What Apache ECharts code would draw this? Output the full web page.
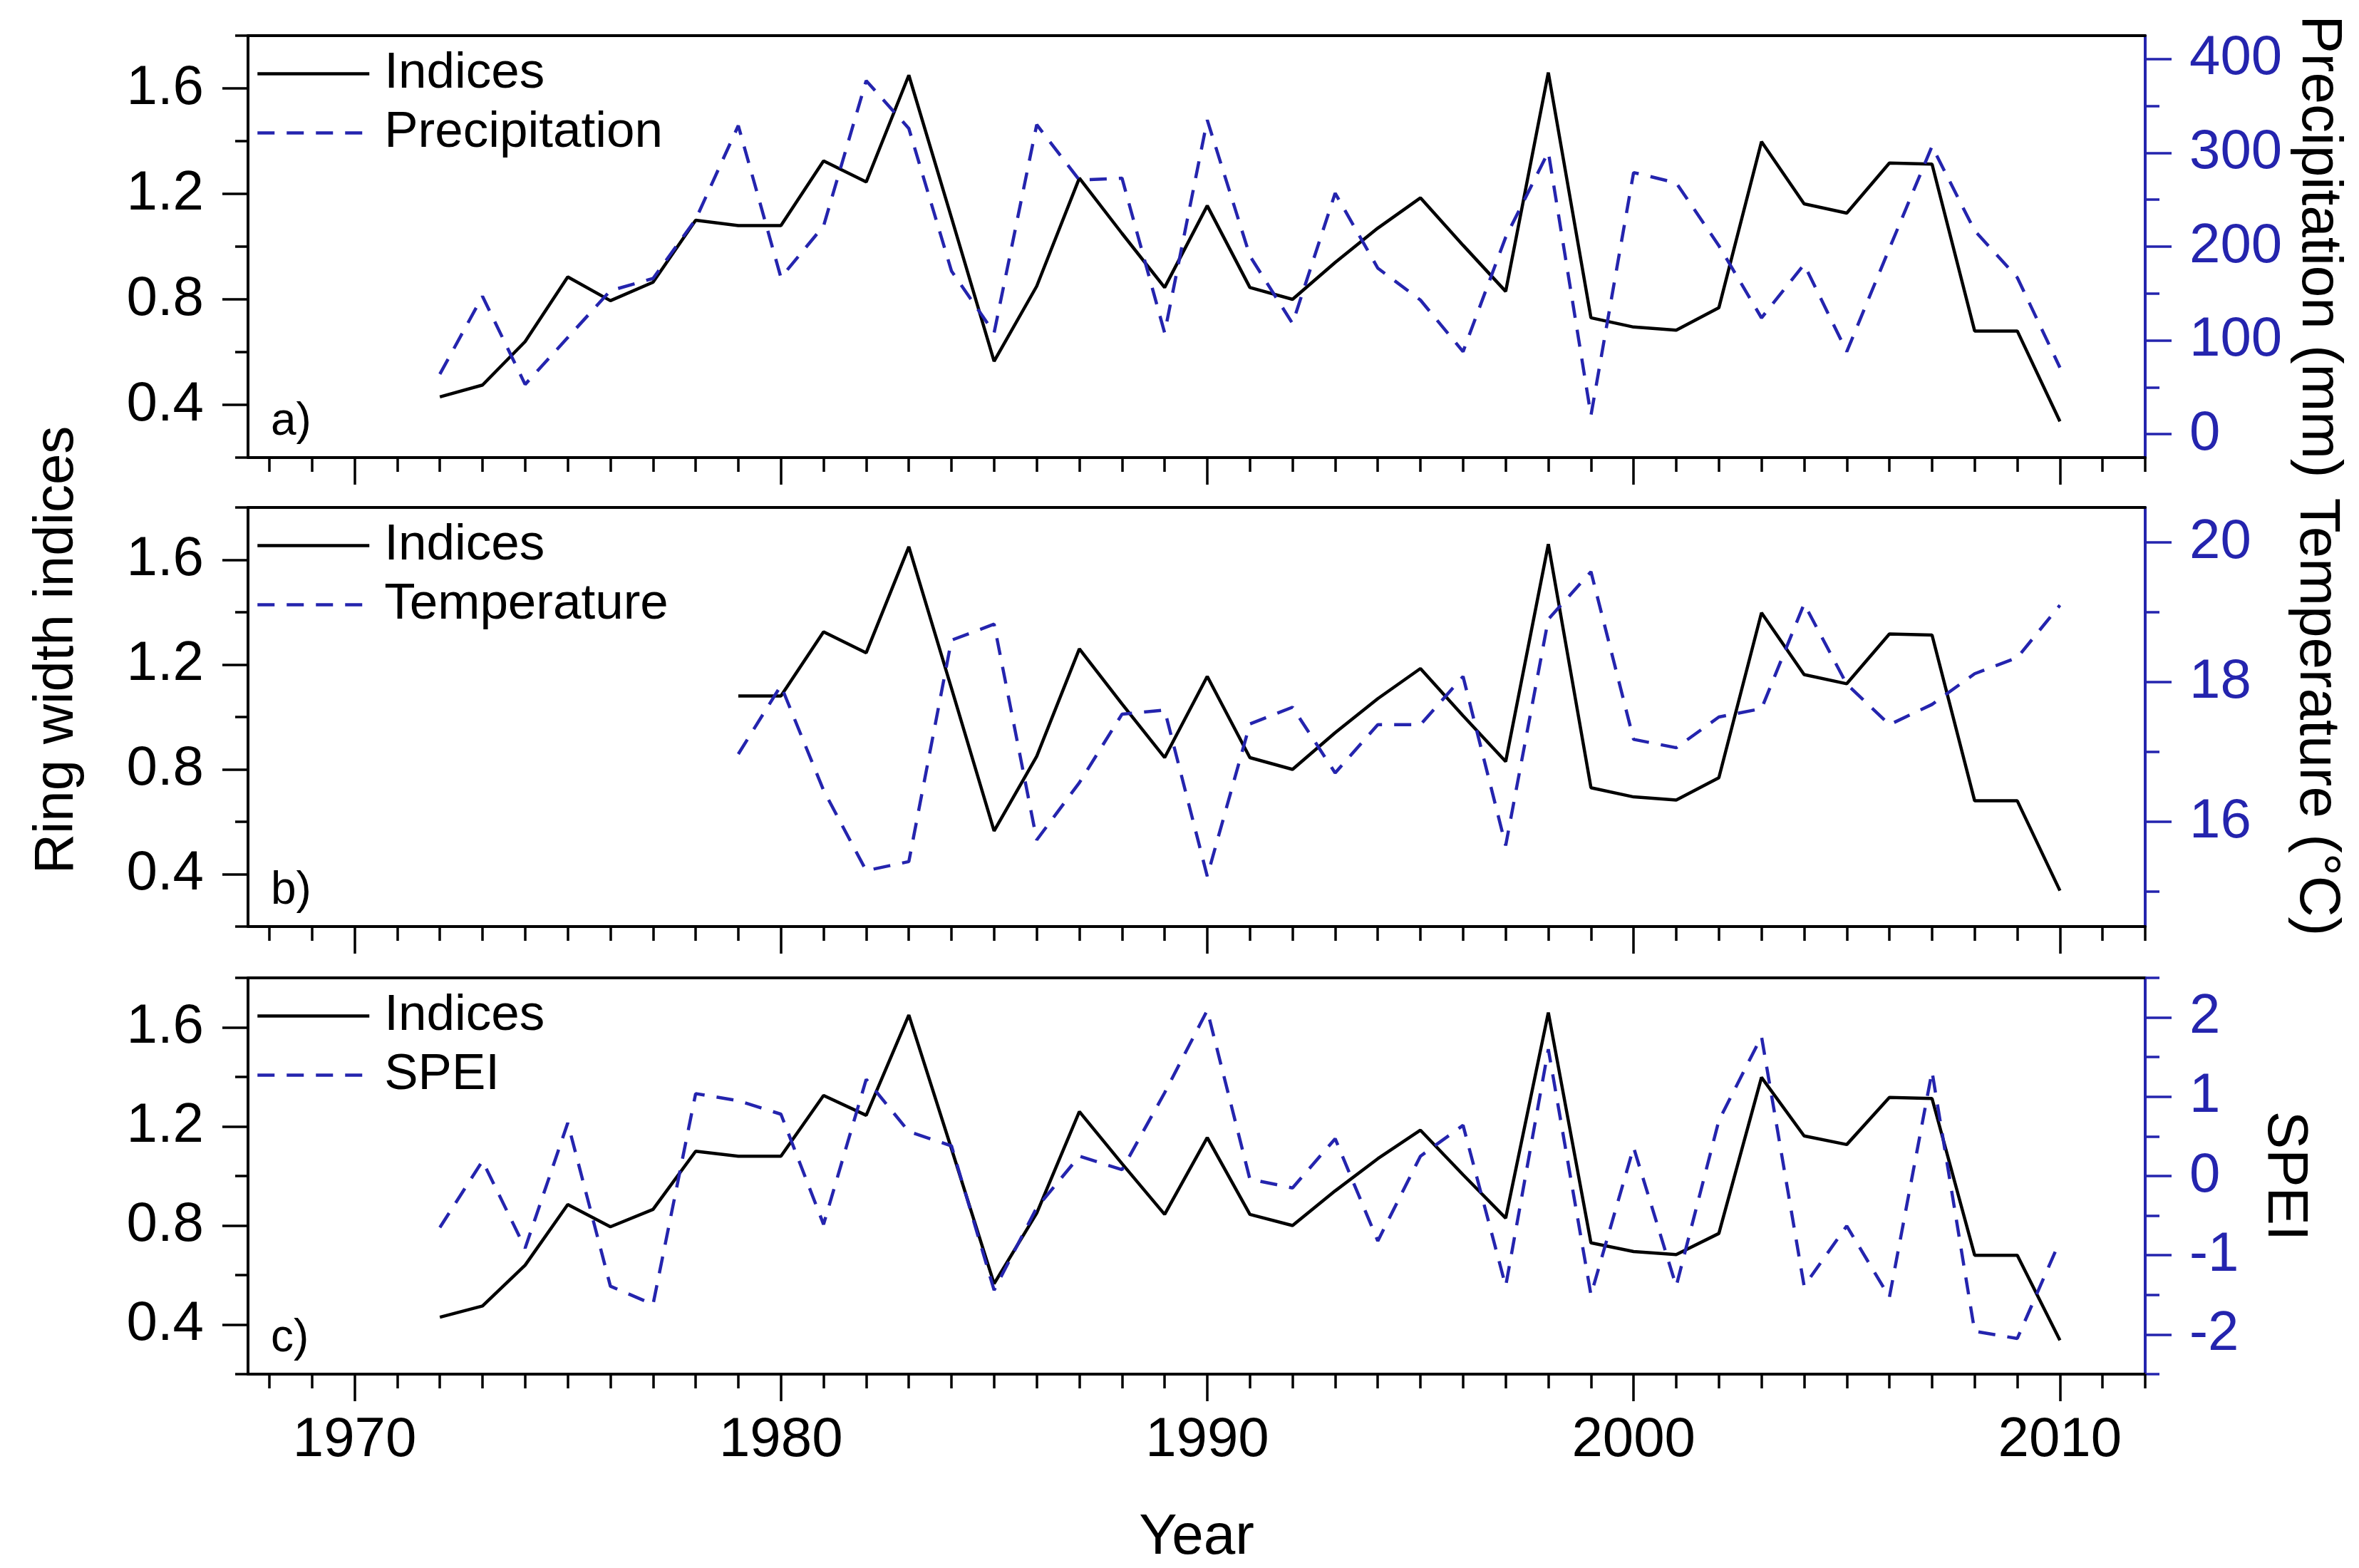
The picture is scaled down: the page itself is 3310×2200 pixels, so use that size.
<!DOCTYPE html>
<html>
<head>
<meta charset="utf-8">
<script src="https://cdn.jsdelivr.net/npm/echarts@6/dist/echarts.min.js"></script>
<style>
html, body { margin: 0; padding: 0; background: #fff; }
#chart { width: 3310px; height: 2200px; }
</style>
</head>
<body>
<div id="chart"></div>
<script>
// data, one value per year 1972-2010
var years = [1972, 1973, 1974, 1975, 1976, 1977, 1978, 1979, 1980, 1981,
             1982, 1983, 1984, 1985, 1986, 1987, 1988, 1989, 1990, 1991,
             1992, 1993, 1994, 1995, 1996, 1997, 1998, 1999, 2000, 2001,
             2002, 2003, 2004, 2005, 2006, 2007, 2008, 2009, 2010];

var indices = [0.43, 0.475, 0.64, 0.885, 0.795, 0.865, 1.10, 1.08, 1.08, 1.325,
               1.245, 1.65, 1.11, 0.565, 0.85, 1.26, 1.05, 0.845, 1.155, 0.845,
               0.80, 0.94, 1.07, 1.185, 1.005, 0.83, 1.66, 0.73, 0.695, 0.683,
               0.768, 1.398, 1.162, 1.127, 1.317, 1.313, 0.68, 0.68, 0.337];

var precipitation = [64, 147, 53, 103, 153, 166, 229, 329, 167, 222,
                     377, 326, 174, 108, 330, 271, 273, 108, 335, 190,
                     118, 257, 177, 143, 88, 210, 301, 20, 279, 268,
                     201, 124, 181, 88, 198, 307, 217, 167, 71];

// temperature record starts in 1979
var temperature = [null, null, null, null, null, null, null, 16.97, 17.95, 16.45,
                   15.3, 15.43, 18.6, 18.83, 15.74, 16.56, 17.54, 17.6, 15.22, 17.4,
                   17.64, 16.7, 17.39, 17.39, 18.08, 15.66, 18.9, 19.58, 17.18, 17.06,
                   17.5, 17.62, 19.12, 17.97, 17.39, 17.68, 18.12, 18.35, 19.1];

var spei = [-0.65, 0.19, -0.91, 0.67, -1.39, -1.62, 1.04, 0.95, 0.78, -0.61,
            1.22, 0.56, 0.38, -1.44, -0.4, 0.25, 0.08, 1.05, 2.09, -0.04,
            -0.15, 0.47, -0.82, 0.25, 0.64, -1.39, 1.6, -1.5, 0.36, -1.39,
            0.7, 1.76, -1.39, -0.63, -1.53, 1.32, -1.96, -2.05, -0.82];

// tick labels
var yearLabels = [1970, 1980, 1990, 2000, 2010];
var yearMinor = [1968, 1969, 1971, 1972, 1973, 1974, 1975, 1976, 1977, 1978, 1979,
                 1981, 1982, 1983, 1984, 1985, 1986, 1987, 1988, 1989,
                 1991, 1992, 1993, 1994, 1995, 1996, 1997, 1998, 1999,
                 2001, 2002, 2003, 2004, 2005, 2006, 2007, 2008, 2009, 2011, 2012];
var ringLabels = [0.4, 0.8, 1.2, 1.6];
var ringMinor = [0.2, 0.6, 1.0, 1.4, 1.8];

var panels = [
  { tag: 'a)', name: 'Precipitation', title: 'Precipitation (mm)', values: precipitation,
    min: -25, max: 425, major: [0, 100, 200, 300, 400], minor: [50, 150, 250, 350],
    top: 50, height: 592, gap: 200, indicesFrom: 0 },
  { tag: 'b)', name: 'Temperature', title: 'Temperature (\u00B0C)', values: temperature,
    min: 14.5, max: 20.5, major: [16, 18, 20], minor: [15, 17, 19],
    top: 712, height: 588, gap: 200, indicesFrom: 7 },
  { tag: 'c)', name: 'SPEI', title: 'SPEI', values: spei,
    min: -2.5, max: 2.5, major: [-2, -1, 0, 1, 2], minor: [-2.5, -1.5, -0.5, 0.5, 1.5, 2.5],
    top: 1372, height: 556, gap: 155, indicesFrom: 0 }
];

var FONT = 'Liberation Sans, Arial, sans-serif';
var BLUE = '#2424ae';
var LEFT = 348, RIGHT = 300;

function pairs(vals, from) {
  var out = [];
  for (var i = 0; i < years.length; i++) {
    out.push([years[i], (i < from || vals[i] == null) ? null : vals[i]]);
  }
  return out;
}

var grid = [], xAxis = [], yAxis = [], series = [], legend = [], graphic = [];

panels.forEach(function (p, i) {
  var last = i === panels.length - 1;
  grid.push({ left: LEFT, right: RIGHT, top: p.top, height: p.height });

  // bottom axis, long ticks + labels
  xAxis.push({
    type: 'value', gridIndex: i, position: 'bottom', min: 1967.5, max: 2012,
    axisLine: { onZero: false, lineStyle: { color: '#000', width: 4 } },
    axisTick: { customValues: yearLabels, length: 38, lineStyle: { color: '#000', width: 3.5 } },
    axisLabel: { show: last, customValues: yearLabels, margin: 54, fontSize: 78, fontFamily: FONT, color: '#000',
                 formatter: function (v) { return String(v); } },
    splitLine: { show: false },
    name: last ? 'Year' : '', nameLocation: 'middle', nameGap: 190,
    nameTextStyle: { fontSize: 80, fontFamily: FONT, color: '#000' }
  });
  // bottom axis, short yearly ticks
  xAxis.push({
    type: 'value', gridIndex: i, position: 'bottom', min: 1967.5, max: 2012,
    axisLine: { show: false, onZero: false },
    axisTick: { customValues: yearMinor, length: 20, lineStyle: { color: '#000', width: 3.5 } },
    axisLabel: { show: false }, splitLine: { show: false }
  });
  // top frame
  xAxis.push({
    type: 'value', gridIndex: i, position: 'top', min: 1967.5, max: 2012,
    axisLine: { onZero: false, lineStyle: { color: '#000', width: 4 } },
    axisTick: { show: false }, axisLabel: { show: false }, splitLine: { show: false }
  });

  // left axis
  yAxis.push({
    type: 'value', gridIndex: i, position: 'left', min: 0.2, max: 1.8,
    axisLine: { show: true, onZero: false, lineStyle: { color: '#000', width: 4 } },
    axisTick: { customValues: ringLabels, length: 36, lineStyle: { color: '#000', width: 3.5 } },
    axisLabel: { customValues: ringLabels, margin: 62, fontSize: 78, fontFamily: FONT, color: '#000',
                 formatter: function (v) { return v.toFixed(1); } },
    splitLine: { show: false }
  });
  yAxis.push({
    type: 'value', gridIndex: i, position: 'left', min: 0.2, max: 1.8,
    axisLine: { show: false, onZero: false },
    axisTick: { customValues: ringMinor, length: 18, lineStyle: { color: '#000', width: 3.5 } },
    axisLabel: { show: false }, splitLine: { show: false }
  });
  // right axis
  yAxis.push({
    type: 'value', gridIndex: i, position: 'right', min: p.min, max: p.max,
    axisLine: { show: true, onZero: false, lineStyle: { color: BLUE, width: 4 } },
    axisTick: { customValues: p.major, length: 37, lineStyle: { color: BLUE, width: 3.5 } },
    axisLabel: { customValues: p.major, margin: 62, fontSize: 78, fontFamily: FONT, color: BLUE },
    splitLine: { show: false },
    name: p.title, nameLocation: 'middle', nameRotate: -90, nameGap: p.gap,
    nameTextStyle: { fontSize: 80, fontFamily: FONT, color: '#000' }
  });
  yAxis.push({
    type: 'value', gridIndex: i, position: 'right', min: p.min, max: p.max,
    axisLine: { show: false, onZero: false },
    axisTick: { customValues: p.minor, length: 20, lineStyle: { color: BLUE, width: 3.5 } },
    axisLabel: { show: false }, splitLine: { show: false }
  });

  series.push({
    name: 'Indices', type: 'line', xAxisIndex: 3 * i, yAxisIndex: 4 * i,
    data: pairs(indices, p.indicesFrom), symbol: 'none', connectNulls: false,
    lineStyle: { color: '#000', width: 4.5 }, itemStyle: { color: '#000' }
  });
  series.push({
    name: p.name, type: 'line', xAxisIndex: 3 * i, yAxisIndex: 4 * i + 2,
    data: pairs(p.values, 0), symbol: 'none', connectNulls: false,
    lineStyle: { color: BLUE, width: 4.5, type: [24, 17] }, itemStyle: { color: BLUE }
  });

  legend.push({
    left: 359, top: p.top + 18, orient: 'vertical', padding: 0,
    itemWidth: 157, itemHeight: 60, itemGap: 12, selectedMode: false,
    data: ['Indices', p.name],
    itemStyle: { color: 'rgba(0,0,0,0)', borderWidth: 0, opacity: 0 },
    lineStyle: { width: 4.5 },
    textStyle: { fontSize: 71, fontFamily: FONT, color: '#000', padding: [0, 0, 0, 16] }
  });

  graphic.push({
    type: 'text', x: 380, y: p.top + p.height - 50,
    style: { text: p.tag, fontSize: 64, fontFamily: FONT, fill: '#000',
             textAlign: 'left', textVerticalAlign: 'middle', align: 'left', verticalAlign: 'middle' }
  });
});

graphic.push({
  type: 'text', x: 80, y: 912, rotation: Math.PI / 2,
  style: { text: 'Ring width indices', fontSize: 78, fontFamily: FONT, fill: '#000',
           textAlign: 'center', textVerticalAlign: 'middle', align: 'center', verticalAlign: 'middle' }
});

var chart = echarts.init(document.getElementById('chart'));
chart.setOption({
  animation: false,
  backgroundColor: '#fff',
  grid: grid,
  xAxis: xAxis,
  yAxis: yAxis,
  legend: legend,
  graphic: graphic,
  series: series
});
</script>
</body>
</html>
